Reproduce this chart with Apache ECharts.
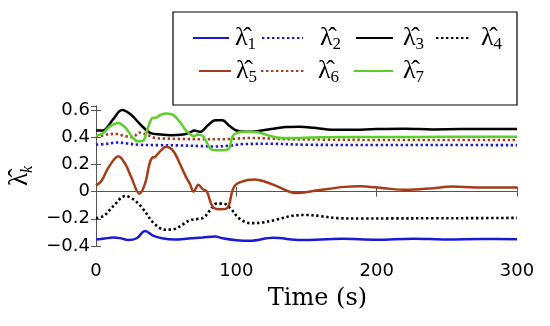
<!DOCTYPE html>
<html><head><meta charset="utf-8">
<script src="https://cdn.jsdelivr.net/npm/echarts@6/dist/echarts.min.js"></script>
<style>html,body{margin:0;padding:0;background:#fff}#c{width:550px;height:326px}</style>
</head><body><div id="c"></div>
<script>
// ---- data ----
const xTicks = [0, 100, 200, 300];
const yTicks = [-0.4, -0.2, 0, 0.2, 0.4, 0.6];

const t1 = [0, 6, 12, 17, 23, 29, 35, 41, 48, 56, 66, 76, 85, 90, 100, 110, 126, 146, 175, 200, 226, 250, 275, 300];
const v1 = [-0.352, -0.345, -0.338, -0.342, -0.356, -0.343, -0.29, -0.325, -0.345, -0.352, -0.345, -0.338, -0.33, -0.343, -0.357, -0.362, -0.34, -0.356, -0.347, -0.354, -0.346, -0.352, -0.349, -0.35];

const t2 = [0, 8, 15, 22, 30, 45, 60, 75, 85, 95, 105, 125, 150, 200, 250, 300];
const v2 = [0.345, 0.352, 0.362, 0.355, 0.345, 0.342, 0.34, 0.335, 0.332, 0.338, 0.35, 0.352, 0.345, 0.343, 0.343, 0.342];

const t3 = [0, 5, 12, 18.5, 25, 32, 39, 46, 53, 62, 67, 70, 74, 80, 85, 90, 95, 100, 107, 115, 125, 135, 145, 155, 165, 180, 200, 220, 240, 260, 280, 300];
const v3 = [0.45, 0.45, 0.53, 0.6, 0.565, 0.49, 0.43, 0.42, 0.415, 0.42, 0.435, 0.45, 0.44, 0.49, 0.525, 0.525, 0.485, 0.45, 0.44, 0.445, 0.46, 0.475, 0.478, 0.47, 0.458, 0.455, 0.46, 0.462, 0.458, 0.46, 0.46, 0.46];

const t4 = [0, 6, 12, 21, 27, 33, 41, 49, 56, 62, 67, 73, 77, 81, 86, 91, 96, 102, 110, 118, 129, 140, 150, 160, 172, 190, 210, 240, 270, 300];
const v4 = [-0.197, -0.175, -0.11, -0.032, -0.06, -0.12, -0.23, -0.28, -0.275, -0.24, -0.21, -0.2, -0.19, -0.14, -0.088, -0.088, -0.125, -0.197, -0.232, -0.228, -0.205, -0.178, -0.172, -0.18, -0.195, -0.198, -0.197, -0.196, -0.195, -0.193];

const t5 = [0, 4, 9, 16, 21, 25, 31, 35, 38, 40, 42, 46, 50, 55, 60, 64, 67, 69.5, 73, 76, 79, 82, 84, 88, 93, 95, 97, 99, 103, 108, 113, 120, 130, 142, 158, 177, 188, 205, 221, 240, 254, 270, 300];
const v5 = [0.044, 0.08, 0.18, 0.26, 0.2, 0.11, -0.015, 0.06, 0.2, 0.25, 0.255, 0.3, 0.33, 0.3, 0.2, 0.11, 0.055, 0.0, 0.05, 0.02, 0.0, -0.09, -0.12, -0.13, -0.125, -0.09, 0.0, 0.045, 0.07, 0.085, 0.09, 0.075, 0.035, -0.01, 0.01, 0.035, 0.04, 0.025, 0.013, 0.025, 0.037, 0.03, 0.03];

const t6 = [0, 8, 14, 20, 26, 31, 36, 42, 50, 60, 75, 90, 100, 110, 125, 140, 160, 200, 250, 300];
const v6 = [0.40, 0.42, 0.425, 0.41, 0.40, 0.435, 0.42, 0.395, 0.39, 0.388, 0.385, 0.385, 0.39, 0.395, 0.39, 0.385, 0.383, 0.38, 0.38, 0.38];

const t7 = [0, 5, 10, 16, 21, 26, 30, 34, 37, 40, 43, 46, 50, 55, 60, 64, 68, 70, 72, 76, 79, 82, 86, 91, 95, 97, 100, 108, 116, 124, 132, 145, 160, 200, 250, 300];
const v7 = [0.41, 0.43, 0.48, 0.505, 0.47, 0.40, 0.37, 0.38, 0.47, 0.54, 0.545, 0.565, 0.575, 0.565, 0.51, 0.45, 0.415, 0.405, 0.42, 0.41, 0.36, 0.31, 0.305, 0.305, 0.32, 0.4, 0.43, 0.44, 0.435, 0.41, 0.395, 0.395, 0.4, 0.402, 0.403, 0.403];

const seriesNames = ['λ1', 'λ2', 'λ3', 'λ4', 'λ5', 'λ6', 'λ7'];
const seriesT = [t1, t2, t3, t4, t5, t6, t7];
const seriesV = [v1, v2, v3, v4, v5, v6, v7];

// ---- styles ----
const BLUE = '#1a1ad6', BLACK = '#000000', BROWN = '#a63c18', GREEN = '#5ccf2a';
const styles = [
  {color: BLUE, dotted: false}, {color: BLUE, dotted: true},
  {color: BLACK, dotted: false}, {color: BLACK, dotted: true},
  {color: BROWN, dotted: false}, {color: BROWN, dotted: true},
  {color: GREEN, dotted: false}
];
// legend placement: [iconLeft, rowCenterY, iconWidth, extra text gap]
const legendPos = [
  [192, 40, 36, 1], [261, 40, 41, 12], [355, 40, 37, 5], [435, 40, 35, 5],
  [198, 73, 32, 0], [260, 73, 45, 7], [353, 73, 39, 5]
];

const series = seriesNames.map((n, i) => ({
  name: n, type: 'line', smooth: 0.35, symbol: 'none', showSymbol: false,
  data: seriesT[i].map((t, j) => [t, seriesV[i][j]]),
  lineStyle: styles[i].dotted
    ? {color: styles[i].color, width: 2.6, type: [2.4, 2.6], cap: 'butt'}
    : {color: styles[i].color, width: 2.5, type: 'solid'},
  itemStyle: {color: styles[i].color},
  z: 2 + i
}));

const SERIF = 'Liberation Serif';
const legendRich = {
  l: {fontFamily: SERIF, fontSize: 26, lineHeight: 30, color: '#000'},
  s: {fontFamily: SERIF, fontSize: 17, lineHeight: 15, color: '#000', verticalAlign: 'bottom'}
};
const legends = seriesNames.map((n, i) => {
  const p = legendPos[i];
  return {
    data: [n], left: p[0], top: p[1] - 15, padding: 0,
    itemWidth: p[2], itemHeight: 14, selectedMode: false,
    itemStyle: {opacity: 0, borderWidth: 0},
    formatter: name => '{l|λ\u0302}{s|' + name.slice(1) + '}',
    textStyle: {padding: [0, 0, 0, p[3]], rich: legendRich}
  };
});

const axisLineStyle = {color: '#555', width: 1};
const fmtY = v => {
  const r = Math.round(v * 10) / 10;
  if (!yTicks.some(y => Math.abs(y - r) < 1e-9) || Math.abs(v - r) > 1e-6) return '';
  return r === 0 ? '0' : String(r).replace('-', '\u2212');
};

const chart = echarts.init(document.getElementById('c'), null, {renderer: 'canvas'});
chart.setOption({
  backgroundColor: '#fff',
  animation: false,
  grid: {left: 96, right: 33, top: 106, bottom: 80, containLabel: false, outerBoundsMode: 'none'},
  legend: legends,
  graphic: [{
    type: 'rect', shape: {x: 173, y: 12, width: 344, height: 93},
    style: {fill: 'none', stroke: '#000', lineWidth: 1.2}, z: 100
  }],
  xAxis: [{
    type: 'value', min: xTicks[0], max: xTicks[xTicks.length - 1], interval: 100,
    position: 'bottom',
    axisLine: {show: true, lineStyle: axisLineStyle},
    axisTick: {show: true, inside: true, length: 5, lineStyle: axisLineStyle},
    splitLine: {show: false},
    axisLabel: {fontFamily: 'DejaVu Sans', fontSize: 18, color: '#000', margin: 16},
    name: 'Time (s)', nameLocation: 'middle', nameGap: 41,
    nameTextStyle: {fontFamily: 'DejaVu Serif', fontSize: 24, color: '#000', padding: [0, 0, 0, 22]}
  }, {
    type: 'value', min: 0, max: 300, interval: 100, position: 'top',
    axisLine: {show: true, lineStyle: axisLineStyle},
    axisTick: {show: true, inside: true, length: 5, lineStyle: axisLineStyle},
    axisLabel: {show: false}, splitLine: {show: false}
  }],
  yAxis: [{
    type: 'value', min: -0.4, max: 0.63, interval: 0.2, position: 'left',
    axisLine: {show: true, lineStyle: axisLineStyle},
    axisTick: {show: true, inside: true, length: 5, lineStyle: axisLineStyle},
    splitLine: {show: false},
    axisLabel: {fontFamily: 'DejaVu Sans', fontSize: 18, color: '#000', margin: 6, formatter: fmtY, showMaxLabel: false},
    name: '{a|λ\u0302}{b|k}', nameLocation: 'middle', nameGap: 46, nameRotate: 90,
    nameTextStyle: {
      rich: {
        a: {fontFamily: SERIF, fontSize: 27, lineHeight: 30, color: '#000'},
        b: {fontFamily: SERIF, fontSize: 16, lineHeight: 14, fontStyle: 'italic', color: '#000', verticalAlign: 'bottom'}
      }
    }
  }, {
    type: 'value', min: -0.4, max: 0.63, interval: 0.2, position: 'right',
    axisLine: {show: true, lineStyle: axisLineStyle},
    axisTick: {show: true, inside: true, length: 5, lineStyle: axisLineStyle},
    axisLabel: {show: false}, splitLine: {show: false}
  }],
  series: series
});
</script></body></html>
